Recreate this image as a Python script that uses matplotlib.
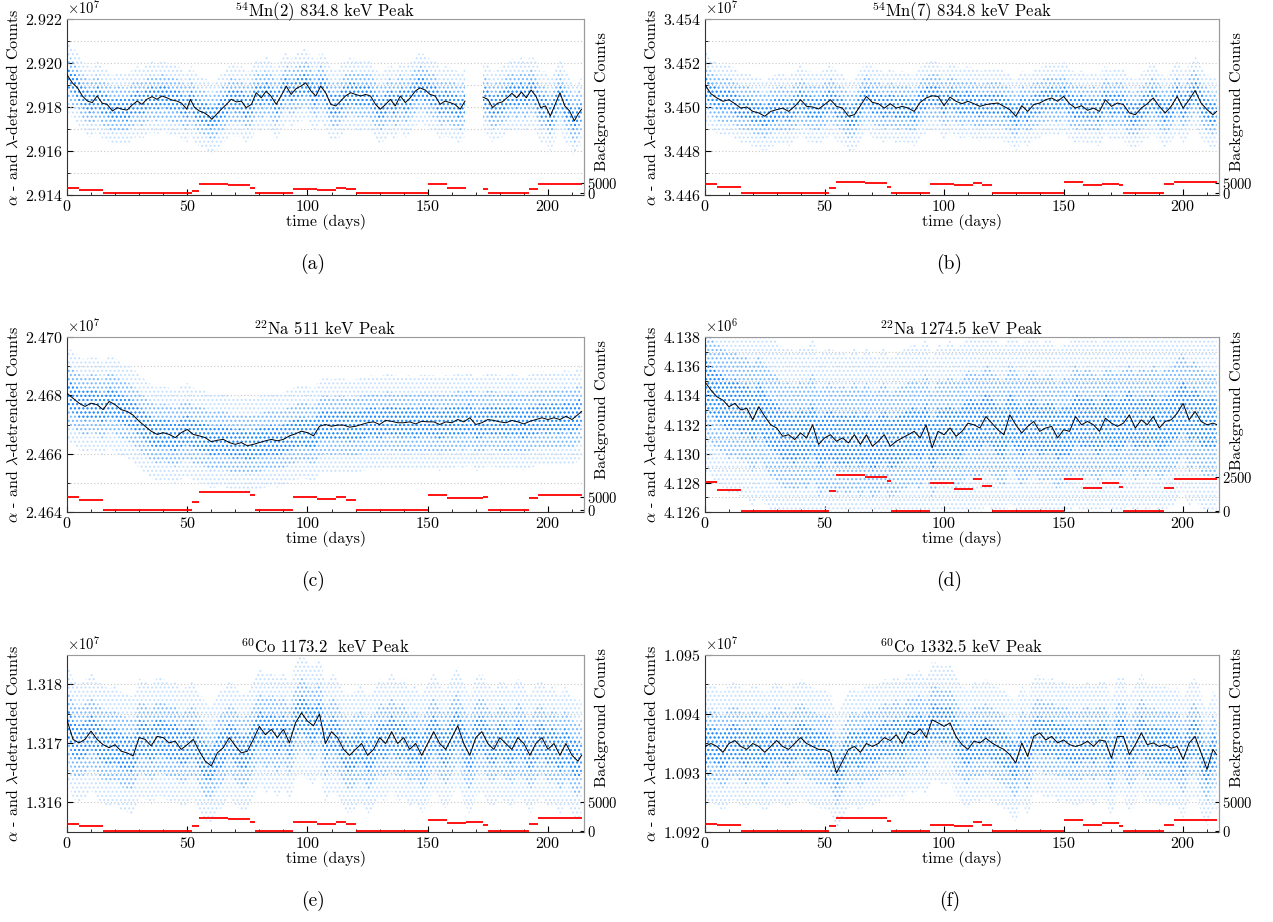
import numpy as np
import matplotlib
matplotlib.use("Agg")
import matplotlib.pyplot as plt
from matplotlib.ticker import MultipleLocator, FixedLocator

plt.rcParams.update({
    "font.family": "serif",
    "font.serif": ["cmr10", "DejaVu Serif"],
    "mathtext.fontset": "cm",
    "axes.formatter.use_mathtext": True,
    "font.size": 11,
    "hatch.linewidth": 0.9,
})

# ---------------------------------------------------------------- data
# sampling times (days) of the running-average curves
t_common = [0, 2.5, 5, 7.5, 10, 12.5, 15, 17.5, 20, 22.5, 25, 27.5, 30, 32.5, 35, 37.5,
            40, 42.5, 45, 47.5, 50, 52.5, 55, 57.5, 60, 62.5, 65, 67.5, 70, 72.5, 75, 77.5,
            80, 82.5, 85, 87.5, 90, 92.5, 95, 97.5, 100, 102.5, 105, 107.5, 110, 112.5, 115,
            117.5, 120, 122.5, 125, 127.5, 130, 132.5, 135, 137.5, 140, 142.5, 145, 147.5,
            150, 152.5, 155, 157.5, 160, 162.5, 165, 167.5, 170, 172.5, 175, 177.5, 180,
            182.5, 185, 187.5, 190, 192.5, 195, 197.5, 200, 202.5, 205, 207.5, 210, 212.5, 214]

# Mn(2): data stop at day 165.5 and resume at day 173
t_mn2 = [0, 2.2, 4.4, 6.4, 8.5, 10.5, 12.5, 14.7, 16.7, 18.9, 20.9, 22.9, 25.0, 27.0, 29.2,
         31.2, 33.2, 35.4, 37.4, 39.5, 41.5, 43.5, 45.7, 47.7, 49.8, 51.3, 52.9, 55.0, 57.0,
         59.0, 60.2, 62.2, 64.2, 66.3, 68.3, 70.5, 72.5, 74.5, 76.7, 78.7, 80.8, 82.8, 84.8,
         87.0, 89.0, 91.2, 93.2, 95.2, 97.3, 99.3, 101.5, 103.5, 105.5, 107.7, 109.7, 111.8,
         113.8, 115.8, 118.0, 120.0, 122.2, 124.2, 126.2, 128.3, 130.3, 132.5, 134.5, 136.5,
         138.6, 140.7, 142.8, 144.8, 146.8, 149.0, 151.0, 153.1, 155.2, 157.2, 159.3, 161.3,
         163.5, 165.5, 169.0,
         173, 175, 177, 179, 181, 183, 185, 187, 189, 191, 193, 195, 197, 199, 201, 203,
         205, 207, 209, 211, 212.5, 214]
mn2_avg = [2.91947, 2.91910, 2.91887, 2.91850, 2.91827, 2.91820, 2.91850, 2.91817, 2.91812,
           2.91782, 2.91797, 2.91790, 2.91786, 2.91808, 2.91827, 2.91812, 2.91835, 2.91847,
           2.91835, 2.91850, 2.91842, 2.91832, 2.91827, 2.91817, 2.91790, 2.91835, 2.91800,
           2.91782, 2.91774, 2.91759, 2.91744, 2.91767, 2.91790, 2.91812, 2.91835, 2.91823,
           2.91827, 2.91797, 2.91812, 2.91865, 2.91842, 2.91872, 2.91850, 2.91812, 2.91850,
           2.91895, 2.91857, 2.91883, 2.91895, 2.91910, 2.91872, 2.91850, 2.91895, 2.91862,
           2.91812, 2.91805, 2.91827, 2.91850, 2.91865, 2.91857, 2.91850, 2.91857, 2.91850,
           2.91812, 2.91790, 2.91812, 2.91835, 2.91805, 2.91850, 2.91820, 2.91842, 2.91872,
           2.91887, 2.91877, 2.91857, 2.91850, 2.91812, 2.91827, 2.91820, 2.91812, 2.91790,
           2.91827, np.nan,
           2.91845, 2.91835, 2.91797, 2.91817, 2.91823, 2.91842, 2.91862, 2.91842, 2.91868,
           2.91842, 2.91877, 2.91850, 2.91797, 2.91805, 2.91759, 2.91812, 2.91865, 2.91805,
           2.91782, 2.91737, 2.91767, 2.91790]

mn7_avg = [3.45101, 3.45060, 3.45041, 3.45026, 3.45033, 3.45015, 3.44995, 3.45000, 3.44980,
           3.44973, 3.44958, 3.44980, 3.44988, 3.44995, 3.44980, 3.45003, 3.45033, 3.45003,
           3.45000, 3.44991, 3.45011,
           3.45033, 3.45003, 3.44995, 3.44958, 3.44965, 3.45006, 3.45048, 3.45021, 3.45015,
           3.44995, 3.45015,
           3.44995, 3.45003, 3.44995, 3.44980, 3.45021, 3.45041, 3.45051, 3.45048,
           3.45006, 3.45045, 3.45026, 3.45015, 3.45026, 3.45015, 3.45003, 3.45011,
           3.45015, 3.45018, 3.45003, 3.44988, 3.44958, 3.45006, 3.44980, 3.45011,
           3.45018, 3.45033, 3.45041, 3.45026,
           3.45048, 3.45015, 3.44995, 3.45006, 3.44985, 3.44995, 3.44980, 3.45033,
           3.45003, 3.45018, 3.45011, 3.44973, 3.44965, 3.44995, 3.45015, 3.45041,
           3.45003, 3.44973, 3.45003, 3.45048,
           3.44995, 3.45033, 3.45075, 3.45018, 3.44988, 3.44965,
           3.44980]

na511_avg = [2.46807, 2.46790, 2.46773, 2.46762, 2.46773, 2.46768, 2.46751, 2.46779, 2.46768,
             2.46751, 2.46745, 2.46732, 2.46711, 2.46694, 2.46677, 2.46666, 2.46672, 2.46666,
             2.46655, 2.46672, 2.46683,
             2.46666, 2.46661, 2.46655, 2.46641, 2.46646, 2.46649, 2.46638, 2.46632, 2.46638,
             2.46627, 2.46632,
             2.46638, 2.46644, 2.46649, 2.46644, 2.46649, 2.46661, 2.46668, 2.46677,
             2.46672, 2.46661, 2.46694, 2.46700, 2.46694, 2.46698, 2.46698, 2.46691,
             2.46694, 2.46700, 2.46706, 2.46709, 2.46700, 2.46714, 2.46711, 2.46706,
             2.46706, 2.46709, 2.46702, 2.46711,
             2.46709, 2.46709, 2.46700, 2.46709, 2.46706, 2.46717, 2.46709, 2.46723,
             2.46700, 2.46706, 2.46717, 2.46714, 2.46709, 2.46706, 2.46714, 2.46709,
             2.46702, 2.46711, 2.46717, 2.46723,
             2.46717, 2.46723, 2.46717, 2.46728, 2.46717, 2.46734,
             2.46745]

na1274_avg = [4.13492, 4.13435, 4.13390, 4.13367, 4.13322, 4.13345, 4.13300, 4.13311, 4.13232,
              4.13322, 4.13255, 4.13198, 4.13176, 4.13119, 4.13130, 4.13097, 4.13142, 4.13108,
              4.13198, 4.13063, 4.13108,
              4.13130, 4.13085, 4.13108, 4.13074, 4.13130, 4.13063, 4.13130, 4.13051, 4.13085,
              4.13130, 4.13051,
              4.13085, 4.13108, 4.13130, 4.13153, 4.13108, 4.13198, 4.13040, 4.13153,
              4.13130, 4.13176, 4.13119, 4.13153, 4.13209, 4.13198, 4.13176, 4.13255,
              4.13209, 4.13164, 4.13130, 4.13266, 4.13198, 4.13142, 4.13187, 4.13221,
              4.13153, 4.13176, 4.13187, 4.13108,
              4.13164, 4.13153, 4.13255, 4.13198, 4.13221, 4.13198, 4.13153, 4.13243,
              4.13209, 4.13187, 4.13209, 4.13266, 4.13176, 4.13232, 4.13198, 4.13255,
              4.13176, 4.13221, 4.13232, 4.13277,
              4.13345, 4.13232, 4.13289, 4.13221, 4.13198, 4.13209,
              4.13200]

co1173_avg = [1.31740, 1.31707, 1.31701, 1.31707, 1.31721, 1.31707, 1.31698, 1.31693, 1.31698,
              1.31687, 1.31684, 1.31679, 1.31710, 1.31707, 1.31696, 1.31712, 1.31710, 1.31701,
              1.31704, 1.31690, 1.31698,
              1.31707, 1.31687, 1.31670, 1.31662, 1.31684, 1.31693, 1.31710, 1.31696, 1.31684,
              1.31687, 1.31707,
              1.31729, 1.31715, 1.31724, 1.31710, 1.31724, 1.31701, 1.31735, 1.31752,
              1.31738, 1.31730, 1.31750, 1.31700, 1.31720, 1.31710, 1.31690, 1.31680,
              1.31690, 1.31700, 1.31680, 1.31690, 1.31710, 1.31700, 1.31720, 1.31700,
              1.31710, 1.31690, 1.31700, 1.31680,
              1.31700, 1.31720, 1.31700, 1.31690, 1.31710, 1.31730, 1.31700, 1.31680,
              1.31710, 1.31720, 1.31700, 1.31690, 1.31710, 1.31700, 1.31690, 1.31710,
              1.31700, 1.31680, 1.31700, 1.31710,
              1.31690, 1.31700, 1.31680, 1.31700, 1.31680, 1.31670,
              1.31680]

co1332_avg = [1.09345, 1.09350, 1.09345, 1.09335, 1.09350, 1.09355, 1.09345, 1.09340, 1.09350,
              1.09345, 1.09335, 1.09345, 1.09355, 1.09345, 1.09340, 1.09350, 1.09360, 1.09350,
              1.09345, 1.09340, 1.09340,
              1.09335, 1.09300, 1.09320, 1.09340, 1.09345, 1.09335, 1.09350, 1.09345, 1.09350,
              1.09360, 1.09355,
              1.09365, 1.09350, 1.09370, 1.09365, 1.09375, 1.09360, 1.09390, 1.09385,
              1.09379, 1.09385, 1.09362, 1.09348, 1.09340, 1.09354, 1.09351, 1.09359,
              1.09351, 1.09345, 1.09340, 1.09331, 1.09317, 1.09351, 1.09328, 1.09362,
              1.09368, 1.09356, 1.09362, 1.09351,
              1.09356, 1.09348, 1.09345, 1.09348, 1.09354, 1.09345, 1.09356, 1.09354,
              1.09325, 1.09362, 1.09362, 1.09331, 1.09348, 1.09368, 1.09348, 1.09351,
              1.09345, 1.09348, 1.09342, 1.09345,
              1.09323, 1.09351, 1.09362, 1.09334, 1.09306, 1.09340,
              1.09331]

# background-count plateaus (same run schedule for every peak)
bg_start = [0, 5, 15, 52, 55, 67, 76, 78, 94, 104, 112, 116, 120, 150, 158, 166, 173, 175, 192, 196]
bg_end = [5, 15, 52, 55, 67, 76, 78, 94, 104, 112, 116, 120, 150, 158, 166, 173, 175, 192, 196, 214]
bg_mn2 = [2630, 1580, 0, 1050, 4380, 4030, 2280, 0, 1930, 1400, 2630, 2100, 0, 4380, 2280, np.nan, 1750, 0, 2100, 4200]
bg_mn7 = [4380, 3150, 0, 2280, 5430, 5080, 3150, 0, 4380, 3860, 4730, 3860, 0, 5260, 4030, 4380, 3860, 0, 4560, 5260]
bg_na511 = [4900, 3850, 0, 3200, 7050, 6800, 5800, 0, 5100, 4100, 5000, 3850, 0, 5950, 4800, 4500, 4900, 0, 4650, 5600]
bg_na1274 = [2100, 1550, 0, 1450, 2600, 2500, 2150, 0, 2000, 1600, 2300, 1800, 0, 2300, 1700, 2000, 1750, 0, 1700, 2350]
bg_co1173 = [1290, 900, 0, 900, 2300, 2020, 1570, 0, 1570, 1180, 1600, 1200, 0, 2000, 1400, 1500, 1100, 0, 1300, 2200]
bg_co1332 = [1300, 1000, 0, 840, 2300, 2180, 1680, 0, 1120, 840, 1570, 1060, 0, 1850, 1120, 1400, 950, 0, 1120, 1960]

titles = [r"$^{54}$Mn(2) 834.8 keV Peak", r"$^{54}$Mn(7) 834.8 keV Peak",
          r"$^{22}$Na 511 keV Peak", r"$^{22}$Na 1274.5 keV Peak",
          r"$^{60}$Co 1173.2  keV Peak", r"$^{60}$Co 1332.5 keV Peak"]
captions = ["(a)", "(b)", "(c)", "(d)", "(e)", "(f)"]

# ---------------------------------------------------------------- layout
W, H = 1273, 922
fig = plt.figure(figsize=(W / 100, H / 100), dpi=100)

panels = [
    dict(t=t_mn2, y=mn2_avg, exp=7, ylim=(2.914, 2.922), major=0.002, minor=0.001,
         bg=bg_mn2, bglim=(-1000, 85000), bgticks=[0, 5000], spread=(0.0005, 0.0010, 0.0016),
         box=(67, 19, 584, 195), rlab=0.53),
    dict(t=t_common, y=mn7_avg, exp=7, ylim=(3.446, 3.454), major=0.002, minor=0.001,
         bg=bg_mn7, bglim=(-1000, 85000), bgticks=[0, 5000], spread=(0.0005, 0.0010, 0.0016),
         box=(705, 19, 1219, 195), rlab=0.53),
    dict(t=t_common, y=na511_avg, exp=7, ylim=(2.464, 2.470), major=0.002, minor=0.001,
         bg=bg_na511, bglim=(-770, 66600), bgticks=[0, 5000], spread=(0.0005, 0.0010, 0.0016),
         box=(67, 337, 584, 512), rlab=0.585),
    dict(t=t_common, y=na1274_avg, exp=6, ylim=(4.126, 4.138), major=0.002, minor=0.001,
         bg=bg_na1274, bglim=(-70, 12620), bgticks=[0, 2500], spread=(0.0017, 0.0036, 0.006),
         box=(705, 337, 1219, 512), rlab=0.635),
    dict(t=t_common, y=co1173_avg, exp=7, ylim=(1.3155, 1.3185), major=0.001, minor=0.0005,
         bg=bg_co1173, bglim=(-100, 29700), bgticks=[0, 5000], spread=(0.0003, 0.0006, 0.0010),
         box=(67, 655, 584, 832), rlab=0.645),
    dict(t=t_common, y=co1332_avg, exp=7, ylim=(1.092, 1.095), major=0.001, minor=0.0005,
         bg=bg_co1332, bglim=(-100, 29700), bgticks=[0, 5000], spread=(0.0003, 0.0006, 0.0010),
         box=(705, 655, 1219, 832), rlab=0.645),
]

for i, p in enumerate(panels):
    x0, y0, x1, y1 = p["box"]
    ax = fig.add_axes([x0 / W, 1 - y1 / H, (x1 - x0) / W, (y1 - y0) / H])
    s = 10.0 ** p["exp"]
    t = np.asarray(p["t"], dtype=float)
    y = np.asarray(p["y"], dtype=float) * s
    core, body, tail = (w * s for w in p["spread"])

    # cloud of the individual measurements around the running average:
    # faint outliers, main body and dense core
    ax.fill_between(t, y - tail, y + tail, facecolor="none", edgecolor="#c4e0ff",
                    hatch="....", linewidth=0, zorder=1)
    ax.fill_between(t, y - body, y + body, facecolor="none", edgecolor="#7cbcff",
                    hatch="....", linewidth=0, zorder=1.3)
    ax.fill_between(t, y - core, y + core, facecolor="none", edgecolor="#1e8cff",
                    hatch="....", linewidth=0, zorder=1.5)
    ax.plot(t, y, color="black", lw=0.7, zorder=3)

    ax.set_xlim(0, 215)
    ax.set_ylim(p["ylim"][0] * s, p["ylim"][1] * s)
    ax.xaxis.set_major_locator(MultipleLocator(50))
    ax.xaxis.set_minor_locator(MultipleLocator(10))
    ax.yaxis.set_major_locator(MultipleLocator(p["major"] * s))
    ax.yaxis.set_minor_locator(MultipleLocator(p["minor"] * s))
    ax.ticklabel_format(axis="y", style="sci", scilimits=(p["exp"], p["exp"]), useOffset=False)
    ax.grid(axis="y", which="both", ls=(0, (1, 2)), color="#c8c8c8", lw=0.8)
    ax.set_axisbelow(True)
    ax.tick_params(which="both", direction="in", top=False, right=False, labelsize=11.5, pad=3)
    ax.tick_params(which="major", length=4)
    ax.tick_params(which="minor", length=2.5)
    for side in ("top", "right"):
        ax.spines[side].set_color("#9a9a9a")
    for side in ("left", "bottom"):
        ax.spines[side].set_color("#333333")
    ax.set_xlabel("time (days)", fontsize=11.5, labelpad=0)
    ax.set_ylabel(r"$\alpha$ - and $\lambda$-detrended Counts", fontsize=11.5)
    ax.yaxis.set_label_coords(-46 / (x1 - x0), 0.5)
    ax.set_title(titles[i], fontsize=12, y=1.0, pad=1.5)
    ax.yaxis.get_offset_text().set_fontsize(10.5)

    ax2 = ax.twinx()
    ax2.hlines(p["bg"], bg_start, bg_end, colors="red", lw=1.3, zorder=4)
    ax2.set_ylim(*p["bglim"])
    ax2.yaxis.set_major_locator(FixedLocator(p["bgticks"]))
    ax2.tick_params(direction="in", length=3, labelsize=10.5, pad=2)
    ax2.set_ylabel("Background Counts", fontsize=11.5)
    ax2.yaxis.set_label_coords(1 + 11 / (x1 - x0), p["rlab"])
    ax2.yaxis.label.set_verticalalignment("top")
    for side in ("top", "left", "bottom"):
        ax2.spines[side].set_visible(False)
    ax2.spines["right"].set_color("#9a9a9a")

    fig.text(((x0 + x1) / 2 - 12.5) / W, 1 - (y1 + 69) / H,
             captions[i], ha="center", va="center", fontsize=14)

fig.savefig("out.png", dpi=100)
